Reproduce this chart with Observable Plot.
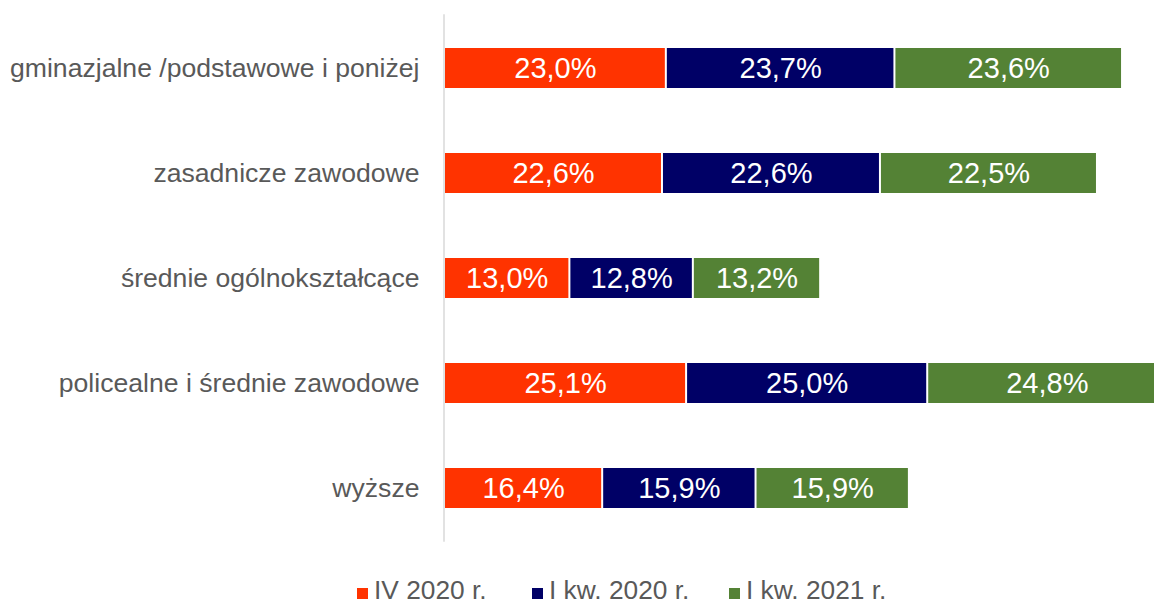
<!DOCTYPE html>
<html>
<head>
<meta charset="utf-8">
<script src="https://cdn.jsdelivr.net/npm/d3@7"></script>
<script src="https://cdn.jsdelivr.net/npm/@observablehq/plot@0.6"></script>
<style>
  html, body { margin: 0; padding: 0; background: white; }
  body { width: 1154px; height: 604px; overflow: hidden; position: relative; font-family: "Liberation Sans", Arial, sans-serif; }
  #legend { position: absolute; left: 0; top: 0; width: 1154px; height: 604px; pointer-events: none; }
  .sw { position: absolute; width: 11px; height: 11px; }
  .lt { position: absolute; font-size: 26.3px; line-height: 30px; color: #595959; white-space: pre; }
</style>
</head>
<body>
<div id="chart"></div>
<div id="legend"></div>
<script>
const categories = [
  "gminazjalne /podstawowe i poniżej",
  "zasadnicze zawodowe",
  "średnie ogólnokształcące",
  "policealne i średnie zawodowe",
  "wyższe"
];
const series = ["IV 2020 r.", "I kw. 2020 r.", "I kw. 2021 r."];
const valuesIV2020 = [23.0, 22.6, 13.0, 25.1, 16.4];
const valuesIkw2020 = [23.7, 22.6, 12.8, 25.0, 15.9];
const valuesIkw2021 = [23.6, 22.5, 13.2, 24.8, 15.9];
const colors = ["#FF3300", "#000066", "#548235"];

const seriesValues = [valuesIV2020, valuesIkw2020, valuesIkw2021];
const data = [];
categories.forEach((c, i) => {
  series.forEach((s, j) => {
    data.push({cat: c, series: s, value: seriesValues[j][i]});
  });
});

const fmt = v => v.toFixed(1).replace(".", ",") + "%";

const W = 1154, H = 565;
const marginLeft = 443.5;
const k = 9.645;
const xMax = (W - marginLeft) / k;

const chart = Plot.plot({
  width: W,
  height: H,
  marginLeft: marginLeft,
  marginRight: 0,
  marginTop: 14.25,
  marginBottom: 23.25,
  style: {fontFamily: "'Liberation Sans', Arial, sans-serif", background: "white"},
  x: {domain: [0, xMax], axis: null},
  y: {domain: categories, paddingInner: 0.62, paddingOuter: 0.31, axis: null},
  color: {domain: series, range: colors},
  marks: [
    Plot.ruleX([0], {stroke: "#d9d9d9", strokeWidth: 1.5}),
    Plot.barX(data, Plot.stackX({
      x: "value", y: "cat", fill: "series", order: series,
      insetLeft: 1.5, insetRight: 0.5
    })),
    Plot.text(data, Plot.stackX({
      x: "value", y: "cat", z: "series", order: series,
      text: d => fmt(d.value), fill: "white", fontSize: 29, dx: 0.5
    })),
    Plot.axisY({
      tickSize: 0, tickPadding: 24.5, fontSize: 26.6, color: "#595959", label: null
    })
  ]
});
document.getElementById("chart").appendChild(chart);

const legend = document.getElementById("legend");
const legendX = [357, 532, 729];
series.forEach((s, j) => {
  const sw = document.createElement("div");
  sw.className = "sw";
  sw.style.left = legendX[j] + "px";
  sw.style.top = "588px";
  sw.style.background = colors[j];
  legend.appendChild(sw);
  const t = document.createElement("div");
  t.className = "lt";
  t.style.left = (legendX[j] + 17) + "px";
  t.style.top = "575px";
  t.textContent = s;
  legend.appendChild(t);
});
</script>
</body>
</html>
